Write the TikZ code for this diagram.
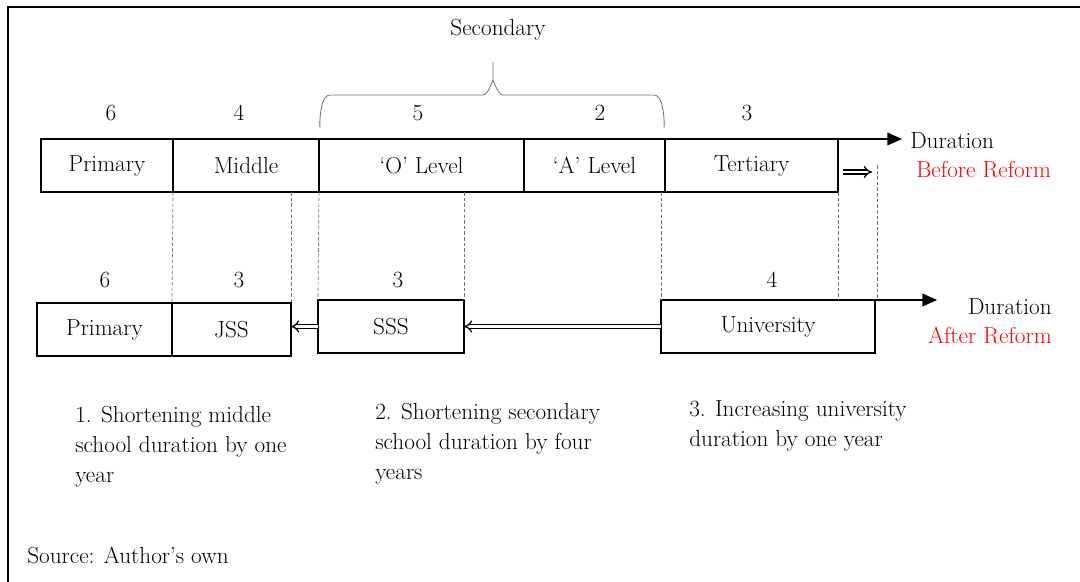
\documentclass[tikz,border=0pt]{standalone}
\usetikzlibrary{arrows.meta,positioning}

\begin{document}
\begin{tikzpicture}[x=0.025cm, y=-0.025cm,
        every node/.style={font=\fontsize{16.5}{21.3}\selectfont},
        stage/.style={rectangle, draw, line width=1.2pt, minimum height=1.325cm, inner sep=0pt, outer sep=0pt},
        num/.style={inner sep=0pt},
        note/.style={anchor=north west, align=left, inner sep=0pt},
        guide/.style={draw=black!55, line width=0.5pt, dash pattern=on 2.5pt off 1.5pt},
        axis/.style={line width=1.2pt, -{Triangle[length=10.5pt, width=9pt]}},
        shiftarrow/.style={double, line width=0.9pt, double distance=2pt, -{Implies}},
        reform/.style={text=red}
    ]
    \useasboundingbox (0,0) rectangle (1080,582);
    \draw[line width=0.9pt] (8,582) -- (8,7) -- (1080,7);

    % before the reform
    \node[stage, minimum width=3.3cm] (primA) at (107,165.5) {Primary};
    \node[stage, minimum width=3.65cm] (middle) at (246,165.5) {Middle};
    \node[stage, minimum width=5.125cm] (olevel) at (421.5,165.5) {`O' Level};
    \node[stage, minimum width=3.525cm] (alevel) at (594.5,165.5) {`A' Level};
    \node[stage, minimum width=4.325cm] (tertiary) at (751.5,165.5) {Tertiary};

    \node[num] (yrA1) at (111,113) {6};
    \node[num] (yrA2) at (239,113) {4};
    \node[num] (yrA3) at (418,113) {5};
    \node[num] (yrA4) at (600,113) {2};
    \node[num] (yrA5) at (747,113) {3};

    \coordinate (endA) at ([xshift=1.6cm]tertiary.north east);
    \draw[axis] (tertiary.north east) -- (endA);
    \node[anchor=west, inner sep=0pt] (durA) at (910,141) {Duration};
    \node[reform, anchor=west, inner sep=0pt] (before) at (916,170) {Before Reform};

    % secondary brace
    \node[num] (second) at (498,30) {Secondary};
    \draw[gray!90!black, line width=0.6pt] (320,125) to[out=-90,in=180] (330,95) -- (483,95)
        to[out=0,in=90] (493,82) -- (493,62) -- (493,82) to[out=90,in=180] (503,95)
        -- (654,95) to[out=0,in=-90] (664,125);

    % after the reform
    \node[stage, minimum width=3.375cm] (primB) at (104.5,329.5) {Primary};
    \node[stage, minimum width=2.975cm] (jss) at (231.5,329.5) {JSS};
    \node[stage, minimum width=3.65cm] (sss) at (391,326.5) {SSS};
    \node[stage, minimum width=5.35cm] (univ) at (768,326.5) {University};

    \node[num] (yrB1) at (105,280) {6};
    \node[num] (yrB2) at (239,280) {3};
    \node[num] (yrB3) at (398,280) {3};
    \node[num] (yrB4) at (772,280) {4};

    \coordinate (endB) at ([xshift=1.55cm]univ.north east);
    \draw[axis] (univ.north east) -- (endB);
    \node[anchor=east, inner sep=0pt] (durB) at (1052,307) {Duration};
    \node[reform, anchor=east, inner sep=0pt] (after) at (1052,335) {After Reform};

    % dashed guides
    \draw[guide] (middle.south west) -- (jss.north west);
    \draw[guide] (jss.north east |- middle.south) -- (jss.north east);
    \draw[guide] (olevel.south west) -- (sss.north west);
    \draw[guide] (sss.north east |- olevel.south) -- (sss.north east);
    \draw[guide] (univ.north west |- alevel.south) -- (univ.north west);
    \draw[guide] (tertiary.south east) -- (tertiary.south east |- univ.north);
    \coordinate (gapL) at (843,172);
    \coordinate (gapR) at (872,172);
    \coordinate (newend) at (877,165);
    \draw[guide] (newend) -- (newend |- univ.north);

    % shifts
    \draw[shiftarrow] (gapL) -- (gapR);
    \draw[shiftarrow] (univ.west) -- (sss.east);
    \draw[shiftarrow] (sss.west) -- (sss.west -| jss.east);

    % notes
    \node[note] (note1) at (75,406) {1. Shortening middle\\school duration by one\\year};
    \node[note] (note2) at (375,403) {2. Shortening secondary\\school duration by four\\years};
    \node[note] (note3) at (689,400) {3. Increasing university\\duration by one year};
    \node[anchor=west, inner sep=0pt] (source) at (27,555) {Source: Author's own};
\end{tikzpicture}
\end{document}
